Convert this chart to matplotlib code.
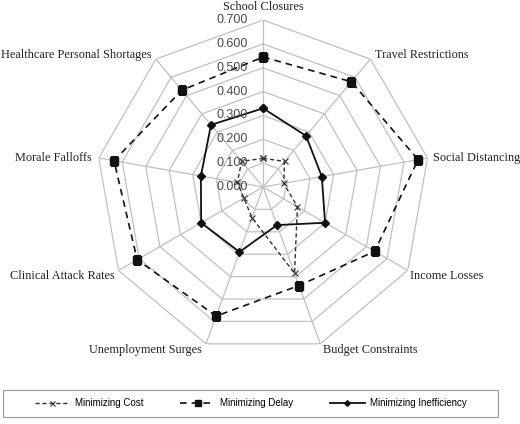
import numpy as np
import matplotlib
matplotlib.use("Agg")
import matplotlib.pyplot as plt
from matplotlib.patches import Rectangle

categories = [
    "School Closures", "Travel Restrictions", "Social Distancing",
    "Income Losses", "Budget Constraints", "Unemployment Surges",
    "Clinical Attack Rates", "Morale Falloffs", "Healthcare Personal Shortages",
]
min_cost = [0.12, 0.14, 0.088, 0.166, 0.385, 0.137, 0.093, 0.11, 0.14]
min_delay = [0.545, 0.576, 0.66, 0.54, 0.44, 0.576, 0.61, 0.635, 0.53]
min_ineff = [0.33, 0.28, 0.25, 0.30, 0.17, 0.29, 0.30, 0.265, 0.34]
ticks = [0.0, 0.1, 0.2, 0.3, 0.4, 0.5, 0.6, 0.7]
tick_labels = ["0.000", "0.100", "0.200", "0.300", "0.400", "0.500", "0.600", "0.700"]

n = len(categories)
theta = np.arange(n) * 2 * np.pi / n
theta_c = np.append(theta, theta[0])

def closed(v):
    return np.append(v, v[0])

fig = plt.figure(figsize=(5.2, 4.24), dpi=100)
ax = fig.add_axes([0.185, 0.165, 0.642, 0.788], projection="polar")
ax.set_theta_zero_location("N")
ax.set_theta_direction(-1)
ax.set_ylim(0, 0.7)
ax.grid(False)
ax.spines["polar"].set_visible(False)
ax.set_xticks([])
ax.set_yticks([])
ax.patch.set_alpha(0)

grid_col = "#c0c0c0"
# nonagon rings
for t in ticks[1:]:
    ax.plot(theta_c, [t] * (n + 1), color=grid_col, lw=0.9, zorder=1)
# spokes
for th in theta:
    ax.plot([th, th], [0, 0.7], color=grid_col, lw=0.9, zorder=1)

ax.plot(theta_c, closed(min_cost), color="#333333", lw=1.0, ls=(0, (3, 2)),
        marker="x", ms=4.5, mew=0.8, label="Minimizing Cost", zorder=3)
ax.plot(theta_c, closed(min_delay), color="#111111", lw=1.2, ls=(0, (4, 3)),
        marker="s", ms=5.5, label="Minimizing Delay", zorder=3)
ax.plot(theta_c, closed(min_ineff), color="#111111", lw=1.3, ls="-",
        marker="D", ms=3.6, label="Minimizing Inefficiency", zorder=3)

# radial tick labels
for t, lab in zip(ticks, tick_labels):
    ax.annotate(lab, xy=(0, t), xytext=(-11, 0), textcoords="offset points",
                ha="right", va="center", fontsize=9, color="#4a4a4a",
                family="Liberation Sans", zorder=4)

# category labels
for th, lab in zip(theta, categories):
    deg = np.degrees(th)
    if deg < 1:
        ha, va, off = "center", "bottom", (0, 5)
    elif deg < 60:
        ha, va, off = "left", "bottom", (3, -1)
    elif deg < 100:
        ha, va, off = "left", "center", (4, 0)
    elif deg < 180:
        ha, va, off = "left", "top", (2, 0)
    elif deg < 260:
        ha, va, off = "right", "top", (-3, 0)
    elif deg < 300:
        ha, va, off = "right", "center", (-5, 0)
    else:
        ha, va, off = "right", "bottom", (-3, -1)
    ax.annotate(lab, xy=(th, 0.7), xytext=off, textcoords="offset points",
                ha=ha, va=va, fontsize=8.8, family="Liberation Serif",
                color="#222222")

fig.add_artist(Rectangle((0.006, 0.0165), 0.952, 0.064, transform=fig.transFigure,
                         fill=False, edgecolor="#999999", lw=0.8))
leg = fig.legend(loc="center", bbox_to_anchor=(0.482, 0.0485), ncol=3,
                 frameon=False, handlelength=3.6, handletextpad=0.5,
                 columnspacing=3.8, prop={"family": "Liberation Sans", "size": 7},
                 markerscale=0.8, borderaxespad=0)

fig.savefig("out.png", dpi=100)
